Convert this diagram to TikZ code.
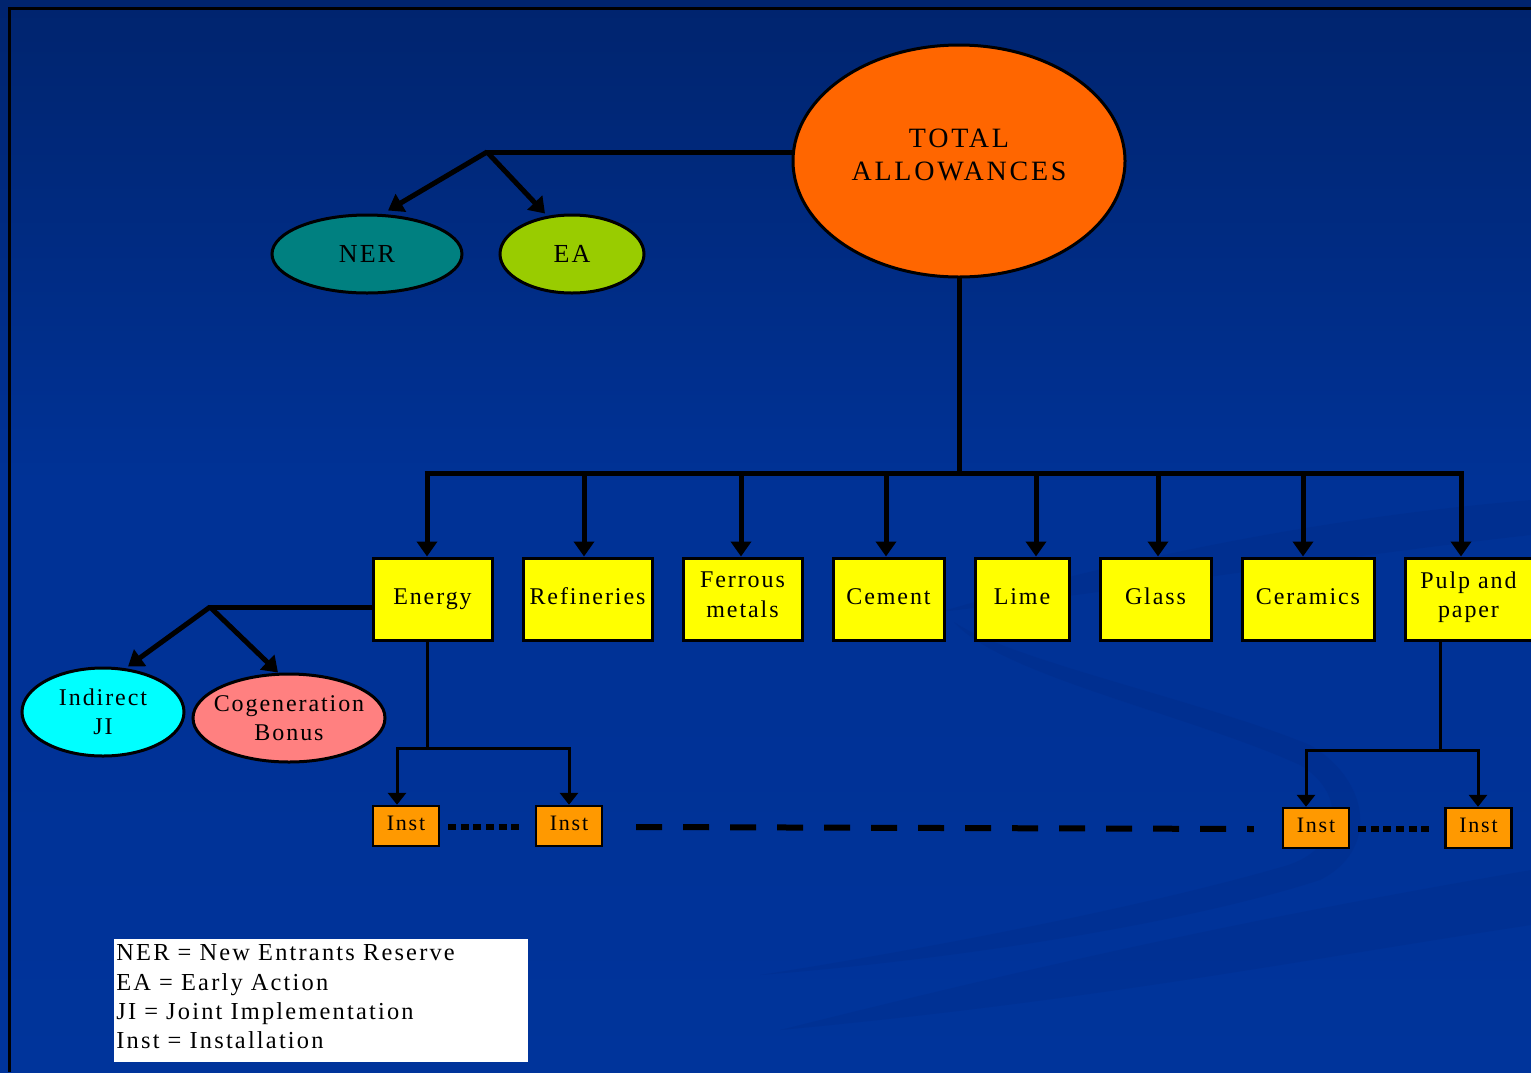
\documentclass[tikz,border=0pt]{standalone}
\usepackage{fontspec}
\setmainfont{Liberation Serif}[LetterSpace=8]
\newfontfamily\widefont{Liberation Serif}[LetterSpace=10]
\newfontfamily\legendfont{Liberation Serif}[LetterSpace=9]
\usetikzlibrary{shapes.geometric,arrows.meta}
\definecolor{bgtop}{RGB}{0,36,110}
\definecolor{bgmid}{RGB}{0,50,150}
\definecolor{bgbot}{RGB}{0,52,155}
\definecolor{swdark}{RGB}{0,30,110}
\definecolor{totorange}{HTML}{FF6600}
\definecolor{nerteal}{HTML}{008080}
\definecolor{eagreen}{HTML}{99CC00}
\definecolor{jicyan}{HTML}{00FFFF}
\definecolor{cogpink}{HTML}{FF8080}
\definecolor{boxyellow}{HTML}{FFFF00}
\definecolor{instorange}{HTML}{FF9900}
\newcommand\mybotstrut{\rule[-3.4pt]{0pt}{1pt}}
\newcommand\totstrut{\rule[-6pt]{0pt}{1pt}}
\newcommand\legstrut{\rule[-4pt]{0pt}{1pt}}
\begin{document}
\begin{tikzpicture}[x=0.5pt,y=-0.5pt,
  oval/.style={ellipse,draw=black,line width=1.5pt,inner sep=0pt,align=center,font=\fontsize{12}{14.75}\selectfont},
  sector/.style={rectangle,draw=black,line width=1.5pt,fill=boxyellow,inner sep=0pt,minimum height=41pt,align=center,font=\fontsize{12}{14.75}\selectfont,execute at begin node=\strut,execute at end node=\mybotstrut},
  instbox/.style={rectangle,draw=black,line width=1.2pt,fill=instorange,inner sep=0pt,minimum width=33pt,minimum height=20pt,font=\fontsize{11}{13}\selectfont},
  link/.style={line width=2.5pt,line cap=rect},
  bigarrow/.style={line width=2.5pt,-{Triangle[length=7.5pt,width=10pt]}},
  thinlink/.style={line width=1.5pt},
  thinarrow/.style={line width=1.5pt,-{Triangle[length=6pt,width=9pt]}},
  dotline/.style={line width=3pt,dash pattern=on 4pt off 2.3pt},
  dashline/.style={line width=3pt,dash pattern=on 13pt off 10.5pt},
  swoosh/.style={fill=swdark,fill opacity=0.13,draw=none}]
\useasboundingbox (0,0) rectangle (1531,1072);
% background
\shade[top color=bgtop,bottom color=bgmid] (0,0) rectangle (1531,480);
\fill[bgmid] (0,479) rectangle (1531,700);
\shade[top color=bgmid,bottom color=bgbot] (0,699) rectangle (1531,1072);
\begin{scope}
\clip (0,0) rectangle (1531,1072);
\fill[swoosh] (940,612) .. controls (1150,550) and (1350,515) .. (1531,500) -- (1531,535) .. controls (1350,555) and (1130,590) .. (940,612) -- cycle;
\fill[swoosh] (954,622) .. controls (1000,675) and (1190,715) .. (1300,765) .. controls (1350,795) and (1340,850) .. (1285,866) .. controls (1150,905) and (950,945) .. (760,975) .. controls (950,960) and (1180,925) .. (1320,880) .. controls (1380,850) and (1370,780) .. (1310,745) .. controls (1200,700) and (1010,660) .. (954,622) -- cycle;
\fill[swoosh] (780,1030) .. controls (1100,950) and (1300,910) .. (1531,870) -- (1531,925) .. controls (1300,960) and (1100,1000) .. (780,1030) -- cycle;
\end{scope}
% frame
\draw[black,line width=1.5pt] (9.5,1072) -- (9.5,8) -- (1531,8);

% nodes
\node[oval,fill=totorange,minimum width=166pt,minimum height=116pt,font=\widefont\fontsize{14}{16.5}\selectfont,execute at end node=\totstrut] (total) at (959,161) {TOTAL\\ALLOWANCES};
\node[oval,fill=nerteal,minimum width=95pt,minimum height=39pt,font=\fontsize{13}{15}\selectfont] (ner) at (367,254) {NER};
\node[oval,fill=eagreen,minimum width=72pt,minimum height=39pt,font=\fontsize{13}{15}\selectfont] (ea) at (572,254) {EA};
\node[oval,fill=jicyan,minimum width=81pt,minimum height=44pt,inner sep=-10pt] (ji) at (103,712) {Indirect\\JI};
\node[oval,fill=cogpink,minimum width=96pt,minimum height=44pt,inner sep=-10pt] (cog) at (289,718) {Cogeneration\\Bonus};

\node[sector,minimum width=59.5pt] (energy) at (432.5,599) {Energy};
\node[sector,minimum width=64.5pt] (refin) at (587.5,599) {Refineries};
\node[sector,minimum width=59.5pt] (ferrous) at (742.5,599) {Ferrous\\metals};
\node[sector,minimum width=55.5pt] (cement) at (888.5,599) {Cement};
\node[sector,minimum width=47pt] (lime) at (1022,599) {Lime};
\node[sector,minimum width=55.5pt] (glass) at (1155.5,599) {Glass};
\node[sector,minimum width=66pt] (ceram) at (1308,599) {Ceramics};
\node[sector,minimum width=67.5pt] (pulp) at (1472.5,599) {\hspace*{-4pt}Pulp and\\\hspace*{-4pt}paper};

\node[instbox] (inst1) at (406,826) {\raisebox{3pt}{Inst}};
\node[instbox] (inst2) at (569,826) {\raisebox{3pt}{Inst}};
\node[instbox] (inst3) at (1316,828) {\raisebox{3pt}{Inst}};
\node[instbox] (inst4) at (1478.5,828) {\raisebox{3pt}{Inst}};

\node[rectangle,fill=white,anchor=north west,minimum width=207pt,minimum height=61.5pt,text width=205pt,inner xsep=1pt,inner ysep=0pt,align=left,font=\legendfont\fontsize{12.2}{14.65}\selectfont,execute at end node=\legstrut] (legend) at (114,939) {NER = New Entrants Reserve\\EA = Early Action\\JI = Joint Implementation\\Inst = Installation};

% top-left branch
\coordinate (b1) at (487,152);
\draw[link] (total.west |- b1) -- (b1);
\draw[bigarrow] (b1) -- ([xshift=10.5pt,yshift=1.5pt]ner.north);
\draw[bigarrow] (b1) -- ([xshift=-13.5pt]ea.north);

% main bus
\coordinate (bus) at (959,473);
\draw[link] (total.south) -- (bus);
\coordinate (t1) at (427,473);
\coordinate (t2) at (584,473);
\coordinate (t3) at (741,473);
\coordinate (t4) at (886,473);
\coordinate (t5) at (1036,473);
\coordinate (t6) at (1158,473);
\coordinate (t7) at (1303,473);
\coordinate (t8) at (1461,473);
\draw[link,line cap=butt] ([xshift=-1.25pt]t1) -- ([xshift=1.25pt]t8);
\draw[bigarrow] (t1) -- (t1 |- energy.north);
\draw[bigarrow] (t2) -- (t2 |- refin.north);
\draw[bigarrow] (t3) -- (t3 |- ferrous.north);
\draw[bigarrow] (t4) -- (t4 |- cement.north);
\draw[bigarrow] (t5) -- (t5 |- lime.north);
\draw[bigarrow] (t6) -- (t6 |- glass.north);
\draw[bigarrow] (t7) -- (t7 |- ceram.north);
\draw[bigarrow] (t8) -- (t8 |- pulp.north);

% energy side branch
\coordinate (b2) at (210,607);
\draw[link] (energy.west |- b2) -- (b2);
\draw[bigarrow] (b2) -- ([xshift=12.5pt]ji.north);
\draw[bigarrow] (b2) -- ([xshift=-5.5pt]cog.north);

% installations under energy
\coordinate (e1) at (427,748);
\coordinate (e2) at (397,748);
\coordinate (e3) at (569,748);
\draw[thinlink] (t1 |- energy.south) -- (e1);
\draw[thinlink,line cap=rect] (e2) -- (e3);
\draw[thinarrow] (e2) -- (e2 |- inst1.north);
\draw[thinarrow] (e3) -- (e3 |- inst2.north);

% installations under pulp
\coordinate (p1) at (1440,750);
\coordinate (p2) at (1306,750);
\coordinate (p3) at (1478,750);
\draw[thinlink] (p1 |- pulp.south) -- (p1);
\draw[thinlink,line cap=rect] (p2) -- (p3);
\draw[thinarrow] (p2) -- (p2 |- inst3.north);
\draw[thinarrow] (p3) -- (p3 |- inst4.north);

% dotted and dashed continuations
\draw[dotline] ([xshift=4pt,yshift=-0.5pt]inst1.east) -- ([xshift=-8pt,yshift=-0.5pt]inst2.west);
\draw[dashline] ([xshift=16.5pt,yshift=-0.5pt]inst2.east) -- ([xshift=-14pt,yshift=-0.5pt]inst3.west);
\draw[dotline] ([xshift=4pt,yshift=-0.5pt]inst3.east) -- ([xshift=-7pt,yshift=-0.5pt]inst4.west);
\end{tikzpicture}
\end{document}
